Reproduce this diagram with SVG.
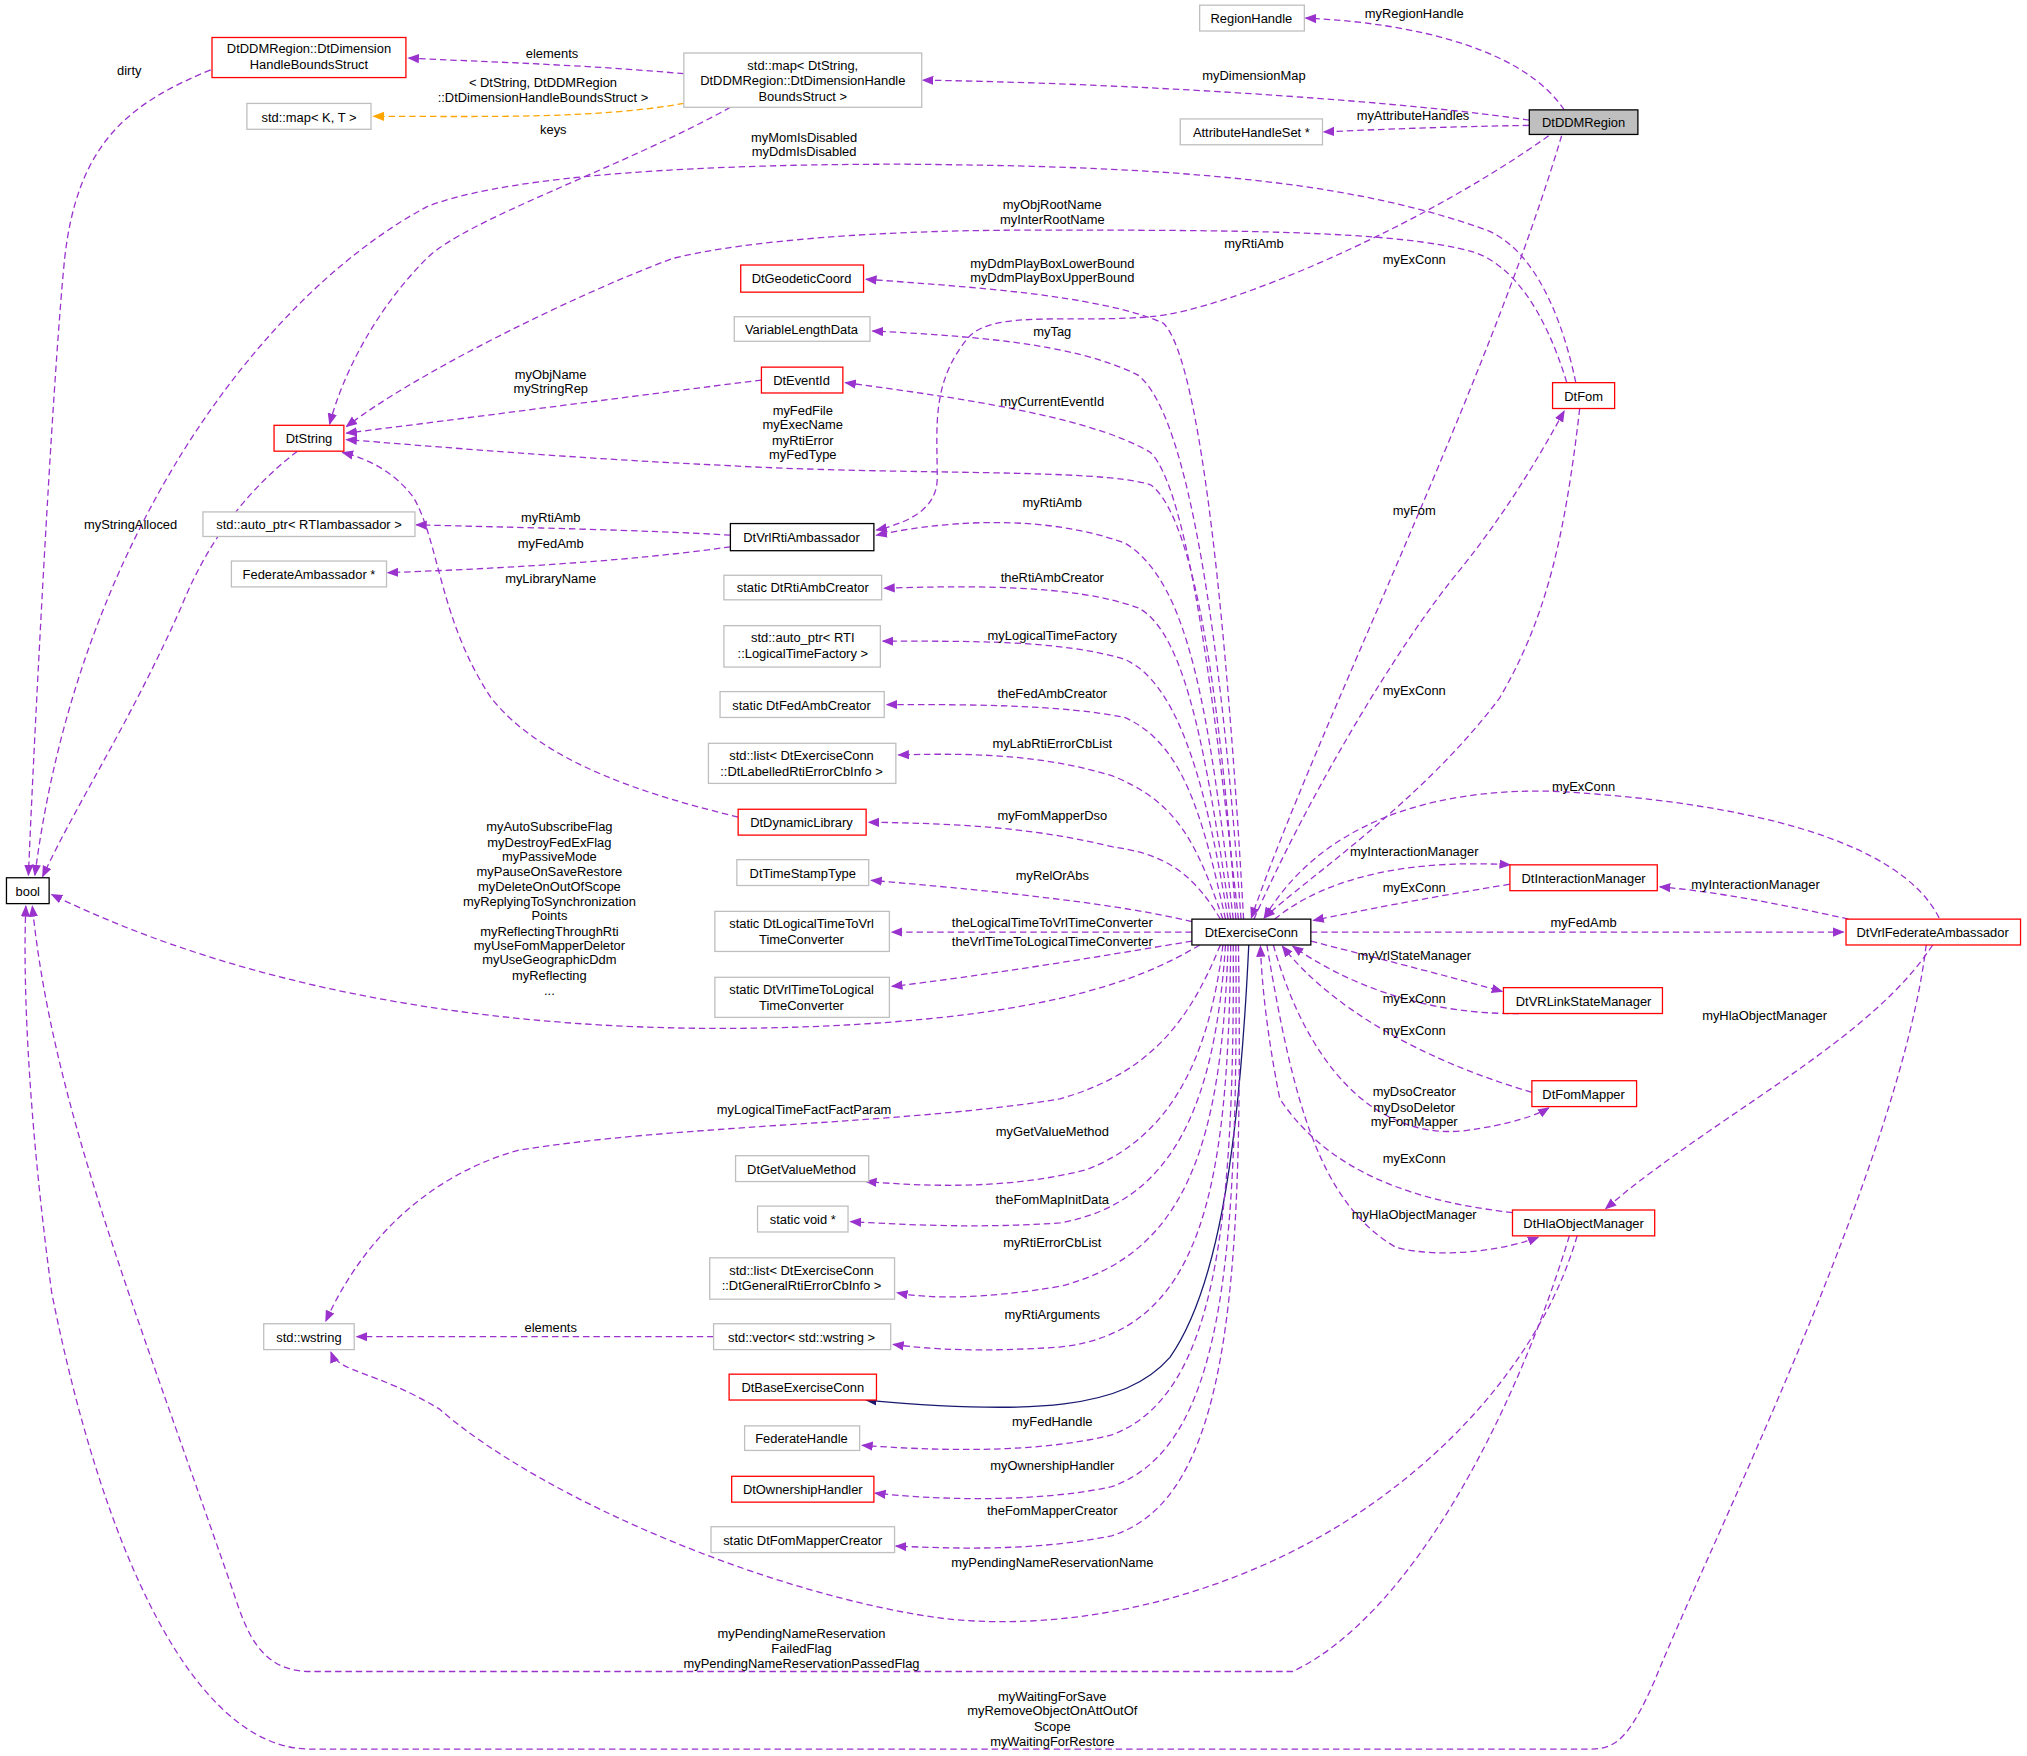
<svg xmlns="http://www.w3.org/2000/svg" width="2027" height="1756" viewBox="0 0 2027 1756">
<style>
text{font-family:"Liberation Sans",Arial,sans-serif;font-size:10px;fill:#000;text-anchor:middle}
.n rect{fill:#fff;stroke-width:1}
.g rect{stroke:#bfbfbf}
.r rect{stroke:#ff0000}
.k rect{stroke:#000}
.e{fill:none;stroke:#9a32cd;stroke-dasharray:5,3;stroke-width:1;marker-end:url(#ap)}
.o{fill:none;stroke:#ffa500;stroke-dasharray:5,3;marker-end:url(#ao)}
.b{fill:none;stroke:#191970;marker-end:url(#ab)}
</style>
<defs>
<marker id="ap" viewBox="0 0 10 10" refX="9" refY="5" markerWidth="9" markerHeight="9" markerUnits="userSpaceOnUse" orient="auto"><path d="M0,1L10,5L0,9z" fill="#9a32cd"/></marker>
<marker id="ao" viewBox="0 0 10 10" refX="9" refY="5" markerWidth="9" markerHeight="9" markerUnits="userSpaceOnUse" orient="auto"><path d="M0,1L10,5L0,9z" fill="#ffa500"/></marker>
<marker id="ab" viewBox="0 0 10 10" refX="9" refY="5" markerWidth="9" markerHeight="9" markerUnits="userSpaceOnUse" orient="auto"><path d="M0,1L10,5L0,9z" fill="#191970"/></marker>
</defs>
<rect width="2027" height="1756" fill="#fff"/>
<g transform="scale(1.29273)">
<g id="edges">
<path class="e" d="M1210,85 C1180,40 1100,18 1010,14"/>
<path class="e" d="M1183,93 C1100,80 900,65 714,62"/>
<path class="e" d="M1183,97 C1120,98 1070,100 1024,102"/>
<path class="e" d="M1198,105 C1100,175 950,240 890,245 C830,250 770,240 750,260 C720,295 725,330 725,370 C725,395 700,405 678,410"/>
<path class="e" d="M1208,105 C1150,300 1020,560 968,710"/>
<path class="e" d="M529,57 C450,50 380,48 316,45"/>
<path class="o" d="M529,80 C460,92 380,90 289,90"/>
<path class="e" d="M565,83 C480,130 360,170 330,200 C290,240 265,290 255,328"/>
<path class="e" d="M163,54 C100,80 60,110 50,200 C40,300 25,600 22,677"/>
<path class="e" d="M1219,296 C1205,230 1180,190 1150,178 C1100,160 1050,150 1000,143 C900,130 800,128 700,127 C500,127 380,140 330,160 C200,230 60,420 27,677"/>
<path class="e" d="M1212,296 C1195,240 1170,205 1140,195 C1080,178 950,178 800,178 C650,178 560,190 520,200 C440,230 320,290 268,330"/>
<path class="e" d="M1222,316 C1210,420 1195,480 1160,540 C1100,620 1010,680 978,710"/>
<path class="e" d="M970,711 C1010,620 1080,500 1130,440 C1170,390 1195,345 1210,318"/>
<path class="e" d="M962,711 C950,500 930,280 900,250 C850,228 750,222 670,216"/>
<path class="e" d="M960,711 C945,500 920,320 880,290 C830,265 750,260 675,256"/>
<path class="e" d="M958,711 C940,550 920,380 890,350 C840,320 720,305 654,296"/>
<path class="e" d="M956,711 C945,550 925,400 890,375 C850,362 700,368 560,360 C450,355 330,345 268,340"/>
<path class="e" d="M589,294 C500,305 350,325 268,335"/>
<path class="e" d="M954,711 C935,550 920,450 870,420 C800,395 720,405 678,414"/>
<path class="e" d="M565,414 C500,410 400,408 322,406"/>
<path class="e" d="M565,423 C480,435 380,440 300,443"/>
<path class="e" d="M571,632 C500,615 420,590 380,540 C340,480 340,420 320,385 C305,365 285,355 265,350"/>
<path class="e" d="M230,349 C190,380 160,420 140,470 C100,560 60,620 33,678"/>
<path class="e" d="M952,711 C935,600 920,490 880,470 C830,452 750,453 684,455"/>
<path class="e" d="M950,711 C935,620 915,530 870,510 C820,495 750,496 683,496"/>
<path class="e" d="M948,711 C930,630 915,575 870,555 C820,545 750,545 686,545"/>
<path class="e" d="M946,711 C925,650 910,620 860,600 C810,585 760,582 695,584"/>
<path class="e" d="M944,711 C920,670 895,660 860,655 C800,640 740,637 672,636"/>
<path class="e" d="M922,713 C870,700 780,690 674,681"/>
<path class="e" d="M922,721 L690,721"/>
<path class="e" d="M922,728 C850,740 760,755 690,763"/>
<path class="e" d="M928,731 C880,760 800,790 600,795 C400,800 200,770 40,692"/>
<path class="e" d="M944,731 C920,790 890,830 820,850 C700,870 520,870 400,890 C330,910 280,960 252,1022"/>
<path class="e" d="M946,731 C935,820 905,880 840,905 C780,920 720,918 670,914"/>
<path class="e" d="M948,731 C940,850 910,930 820,946 C760,950 710,948 658,945"/>
<path class="e" d="M950,731 C945,880 920,970 820,995 C760,1005 720,1005 694,1000"/>
<path class="e" d="M952,731 C950,920 930,1030 820,1042 C760,1046 720,1044 691,1040"/>
<path class="e" d="M552,1034 L276,1034"/>
<path class="b" d="M966,731 C958,900 940,1000 905,1050 C870,1090 800,1095 670,1083"/>
<path class="e" d="M954,731 C955,950 940,1080 860,1110 C800,1125 720,1122 667,1118"/>
<path class="e" d="M956,731 C958,980 945,1120 860,1150 C800,1163 720,1160 677,1155"/>
<path class="e" d="M958,731 C962,1000 950,1160 860,1188 C800,1200 740,1198 693,1196"/>
<path class="e" d="M1220,956 C1190,1060 1100,1150 1000,1200 C900,1250 800,1260 730,1252 C600,1235 420,1160 340,1090 C290,1060 262,1062 256,1046"/>
<path class="e" d="M1214,956 C1170,1100 1090,1250 1000,1293 L240,1293 C200,1293 190,1260 180,1230 C100,1000 40,850 25,701"/>
<path class="e" d="M1490,731 C1470,900 1320,1200 1280,1300 C1260,1345 1250,1353 1230,1353 L240,1353 C150,1353 80,1200 40,1000 C20,850 18,750 20,701"/>
<path class="e" d="M1500,710 C1470,650 1350,620 1200,612 C1100,610 1020,640 978,710"/>
<path class="e" d="M986,711 C1030,675 1100,665 1168,669"/>
<path class="e" d="M1168,684 C1100,695 1050,705 1016,712"/>
<path class="e" d="M1014,721 L1426,721"/>
<path class="e" d="M1430,711 C1380,700 1330,690 1284,686"/>
<path class="e" d="M1014,728 C1080,745 1120,755 1162,767"/>
<path class="e" d="M1175,784 C1100,785 1040,760 1000,732"/>
<path class="e" d="M1185,845 C1100,820 1030,780 992,732"/>
<path class="e" d="M985,731 C1010,820 1060,880 1130,875 C1170,870 1190,862 1198,857"/>
<path class="e" d="M1170,938 C1100,930 1030,910 990,850 C980,800 976,760 975,732"/>
<path class="e" d="M980,731 C1000,850 1020,930 1080,965 C1120,975 1170,965 1190,957"/>
<path class="e" d="M1495,731 C1450,800 1350,850 1260,920 L1242,935"/>
</g>
<g id="labels">
<text x="100" y="58">dirty</text>
<text x="427" y="45">elements</text>
<text x="420" y="67">&lt; DtString, DtDDMRegion</text>
<text x="420" y="79">::DtDimensionHandleBoundsStruct &gt;</text>
<text x="428" y="104">keys</text>
<text x="1094" y="14">myRegionHandle</text>
<text x="970" y="62">myDimensionMap</text>
<text x="1093" y="93">myAttributeHandles</text>
<text x="622" y="110">myMomIsDisabled</text>
<text x="622" y="121">myDdmIsDisabled</text>
<text x="814" y="162">myObjRootName</text>
<text x="814" y="173">myInterRootName</text>
<text x="970" y="192">myRtiAmb</text>
<text x="1094" y="204">myExConn</text>
<text x="814" y="207">myDdmPlayBoxLowerBound</text>
<text x="814" y="218">myDdmPlayBoxUpperBound</text>
<text x="814" y="260">myTag</text>
<text x="426" y="293">myObjName</text>
<text x="426" y="304">myStringRep</text>
<text x="814" y="314">myCurrentEventId</text>
<text x="621" y="321">myFedFile</text>
<text x="621" y="332">myExecName</text>
<text x="621" y="344">myRtiError</text>
<text x="621" y="355">myFedType</text>
<text x="814" y="392">myRtiAmb</text>
<text x="1094" y="398">myFom</text>
<text x="101" y="409">myStringAlloced</text>
<text x="426" y="404">myRtiAmb</text>
<text x="426" y="424">myFedAmb</text>
<text x="426" y="451">myLibraryName</text>
<text x="814" y="450">theRtiAmbCreator</text>
<text x="814" y="495">myLogicalTimeFactory</text>
<text x="1094" y="538">myExConn</text>
<text x="814" y="540">theFedAmbCreator</text>
<text x="814" y="579">myLabRtiErrorCbList</text>
<text x="1225" y="612">myExConn</text>
<text x="814" y="634">myFomMapperDso</text>
<text x="1094" y="662">myInteractionManager</text>
<text x="1094" y="690">myExConn</text>
<text x="1358" y="688">myInteractionManager</text>
<text x="814" y="681">myRelOrAbs</text>
<text x="425" y="643">myAutoSubscribeFlag</text>
<text x="425" y="655">myDestroyFedExFlag</text>
<text x="425" y="666">myPassiveMode</text>
<text x="425" y="678">myPauseOnSaveRestore</text>
<text x="425" y="689">myDeleteOnOutOfScope</text>
<text x="425" y="701">myReplyingToSynchronization</text>
<text x="425" y="712">Points</text>
<text x="425" y="724">myReflectingThroughRti</text>
<text x="425" y="735">myUseFomMapperDeletor</text>
<text x="425" y="746">myUseGeographicDdm</text>
<text x="425" y="758">myReflecting</text>
<text x="425" y="770">...</text>
<text x="814" y="717">theLogicalTimeToVrlTimeConverter</text>
<text x="814" y="732">theVrlTimeToLogicalTimeConverter</text>
<text x="1225" y="717">myFedAmb</text>
<text x="1094" y="743">myVrlStateManager</text>
<text x="1094" y="776">myExConn</text>
<text x="1365" y="789">myHlaObjectManager</text>
<text x="1094" y="801">myExConn</text>
<text x="1094" y="848">myDsoCreator</text>
<text x="1094" y="860">myDsoDeletor</text>
<text x="1094" y="871">myFomMapper</text>
<text x="622" y="862">myLogicalTimeFactFactParam</text>
<text x="814" y="879">myGetValueMethod</text>
<text x="1094" y="900">myExConn</text>
<text x="814" y="931">theFomMapInitData</text>
<text x="1094" y="943">myHlaObjectManager</text>
<text x="814" y="965">myRtiErrorCbList</text>
<text x="426" y="1030">elements</text>
<text x="814" y="1020">myRtiArguments</text>
<text x="814" y="1103">myFedHandle</text>
<text x="814" y="1137">myOwnershipHandler</text>
<text x="814" y="1172">theFomMapperCreator</text>
<text x="814" y="1212">myPendingNameReservationName</text>
<text x="620" y="1267">myPendingNameReservation</text>
<text x="620" y="1279">FailedFlag</text>
<text x="620" y="1290">myPendingNameReservationPassedFlag</text>
<text x="814" y="1316">myWaitingForSave</text>
<text x="814" y="1327">myRemoveObjectOnAttOutOf</text>
<text x="814" y="1339">Scope</text>
<text x="814" y="1351">myWaitingForRestore</text>
</g>
<g id="n_bool" class="n k"><rect x="5" y="679" width="33" height="20"/><text x="21.5" y="693">bool</text></g>
<g id="n_dimstruct" class="n r"><rect x="164" y="29" width="150" height="31"/><text x="239" y="41">DtDDMRegion::DtDimension</text><text x="239" y="53">HandleBoundsStruct</text></g>
<g id="n_mapkt" class="n g"><rect x="191" y="80" width="96" height="20"/><text x="239" y="94">std::map&lt; K, T &gt;</text></g>
<g id="n_mapds" class="n g"><rect x="529" y="41" width="184" height="42"/><text x="621" y="54">std::map&lt; DtString,</text><text x="621" y="66">DtDDMRegion::DtDimensionHandle</text><text x="621" y="78">BoundsStruct &gt;</text></g>
<g id="n_regionhandle" class="n g"><rect x="928" y="4" width="81" height="20"/><text x="968" y="18">RegionHandle</text></g>
<g id="n_ddmregion" class="n"><rect x="1183" y="85" width="84" height="19" fill="#bfbfbf" stroke="#000" style="fill:#bfbfbf"/><text x="1225" y="98">DtDDMRegion</text></g>
<g id="n_ahs" class="n g"><rect x="913" y="92" width="110" height="20"/><text x="968" y="106">AttributeHandleSet *</text></g>
<g id="n_geo" class="n r"><rect x="573" y="205" width="95" height="21"/><text x="620" y="219">DtGeodeticCoord</text></g>
<g id="n_vld" class="n g"><rect x="568" y="245" width="105" height="19"/><text x="620" y="258">VariableLengthData</text></g>
<g id="n_eventid" class="n r"><rect x="589" y="284" width="63" height="20"/><text x="620" y="298">DtEventId</text></g>
<g id="n_dtstring" class="n r"><rect x="212" y="329" width="54" height="20"/><text x="239" y="343">DtString</text></g>
<g id="n_fom" class="n r"><rect x="1201" y="296" width="48" height="20"/><text x="1225" y="310">DtFom</text></g>
<g id="n_aprti" class="n g"><rect x="157" y="396" width="164" height="19"/><text x="239" y="409">std::auto_ptr&lt; RTIambassador &gt;</text></g>
<g id="n_vrlrti" class="n k"><rect x="565" y="405" width="111" height="21"/><text x="620" y="419">DtVrlRtiAmbassador</text></g>
<g id="n_fedamb" class="n g"><rect x="179" y="434" width="120" height="20"/><text x="239" y="448">FederateAmbassador *</text></g>
<g id="n_rtiambc" class="n g"><rect x="560" y="445" width="122" height="19"/><text x="621" y="458">static DtRtiAmbCreator</text></g>
<g id="n_ltf" class="n g"><rect x="560" y="484" width="121" height="32"/><text x="621" y="497">std::auto_ptr&lt; RTI</text><text x="621" y="509">::LogicalTimeFactory &gt;</text></g>
<g id="n_fedambc" class="n g"><rect x="557" y="535" width="127" height="20"/><text x="620" y="549">static DtFedAmbCreator</text></g>
<g id="n_lablist" class="n g"><rect x="548" y="575" width="145" height="31"/><text x="620" y="588">std::list&lt; DtExerciseConn</text><text x="620" y="600">::DtLabelledRtiErrorCbInfo &gt;</text></g>
<g id="n_dynlib" class="n r"><rect x="571" y="626" width="99" height="20"/><text x="620" y="640">DtDynamicLibrary</text></g>
<g id="n_tst" class="n g"><rect x="570" y="665" width="102" height="20"/><text x="621" y="679">DtTimeStampType</text></g>
<g id="n_lt2vrl" class="n g"><rect x="553" y="705" width="135" height="31"/><text x="620" y="718">static DtLogicalTimeToVrl</text><text x="620" y="730">TimeConverter</text></g>
<g id="n_vrl2lt" class="n g"><rect x="553" y="756" width="135" height="31"/><text x="620" y="769">static DtVrlTimeToLogical</text><text x="620" y="781">TimeConverter</text></g>
<g id="n_exconn" class="n k"><rect x="922" y="711" width="92" height="20"/><text x="968" y="725">DtExerciseConn</text></g>
<g id="n_intmgr" class="n r"><rect x="1168" y="669" width="114" height="20"/><text x="1225" y="683">DtInteractionManager</text></g>
<g id="n_vrlfedamb" class="n r"><rect x="1428" y="711" width="135" height="20"/><text x="1495" y="725">DtVrlFederateAmbassador</text></g>
<g id="n_statemgr" class="n r"><rect x="1163" y="764" width="123" height="20"/><text x="1225" y="778">DtVRLinkStateManager</text></g>
<g id="n_fommapper" class="n r"><rect x="1185" y="836" width="81" height="20"/><text x="1225" y="850">DtFomMapper</text></g>
<g id="n_hlaobj" class="n r"><rect x="1170" y="936" width="110" height="20"/><text x="1225" y="950">DtHlaObjectManager</text></g>
<g id="n_gvm" class="n g"><rect x="569" y="894" width="103" height="20"/><text x="620" y="908">DtGetValueMethod</text></g>
<g id="n_void" class="n g"><rect x="586" y="933" width="70" height="20"/><text x="621" y="947">static void *</text></g>
<g id="n_genlist" class="n g"><rect x="549" y="973" width="143" height="32"/><text x="620" y="986">std::list&lt; DtExerciseConn</text><text x="620" y="998">::DtGeneralRtiErrorCbInfo &gt;</text></g>
<g id="n_wstring" class="n g"><rect x="204" y="1024" width="70" height="20"/><text x="239" y="1038">std::wstring</text></g>
<g id="n_vector" class="n g"><rect x="552" y="1024" width="137" height="20"/><text x="620" y="1038">std::vector&lt; std::wstring &gt;</text></g>
<g id="n_baseex" class="n r"><rect x="564" y="1063" width="114" height="20"/><text x="621" y="1077">DtBaseExerciseConn</text></g>
<g id="n_fedhandle" class="n g"><rect x="576" y="1103" width="89" height="19"/><text x="620" y="1116">FederateHandle</text></g>
<g id="n_ownh" class="n r"><rect x="566" y="1142" width="110" height="20"/><text x="621" y="1156">DtOwnershipHandler</text></g>
<g id="n_fmc" class="n g"><rect x="550" y="1181" width="142" height="20"/><text x="621" y="1195">static DtFomMapperCreator</text></g>
</g>
</svg>
